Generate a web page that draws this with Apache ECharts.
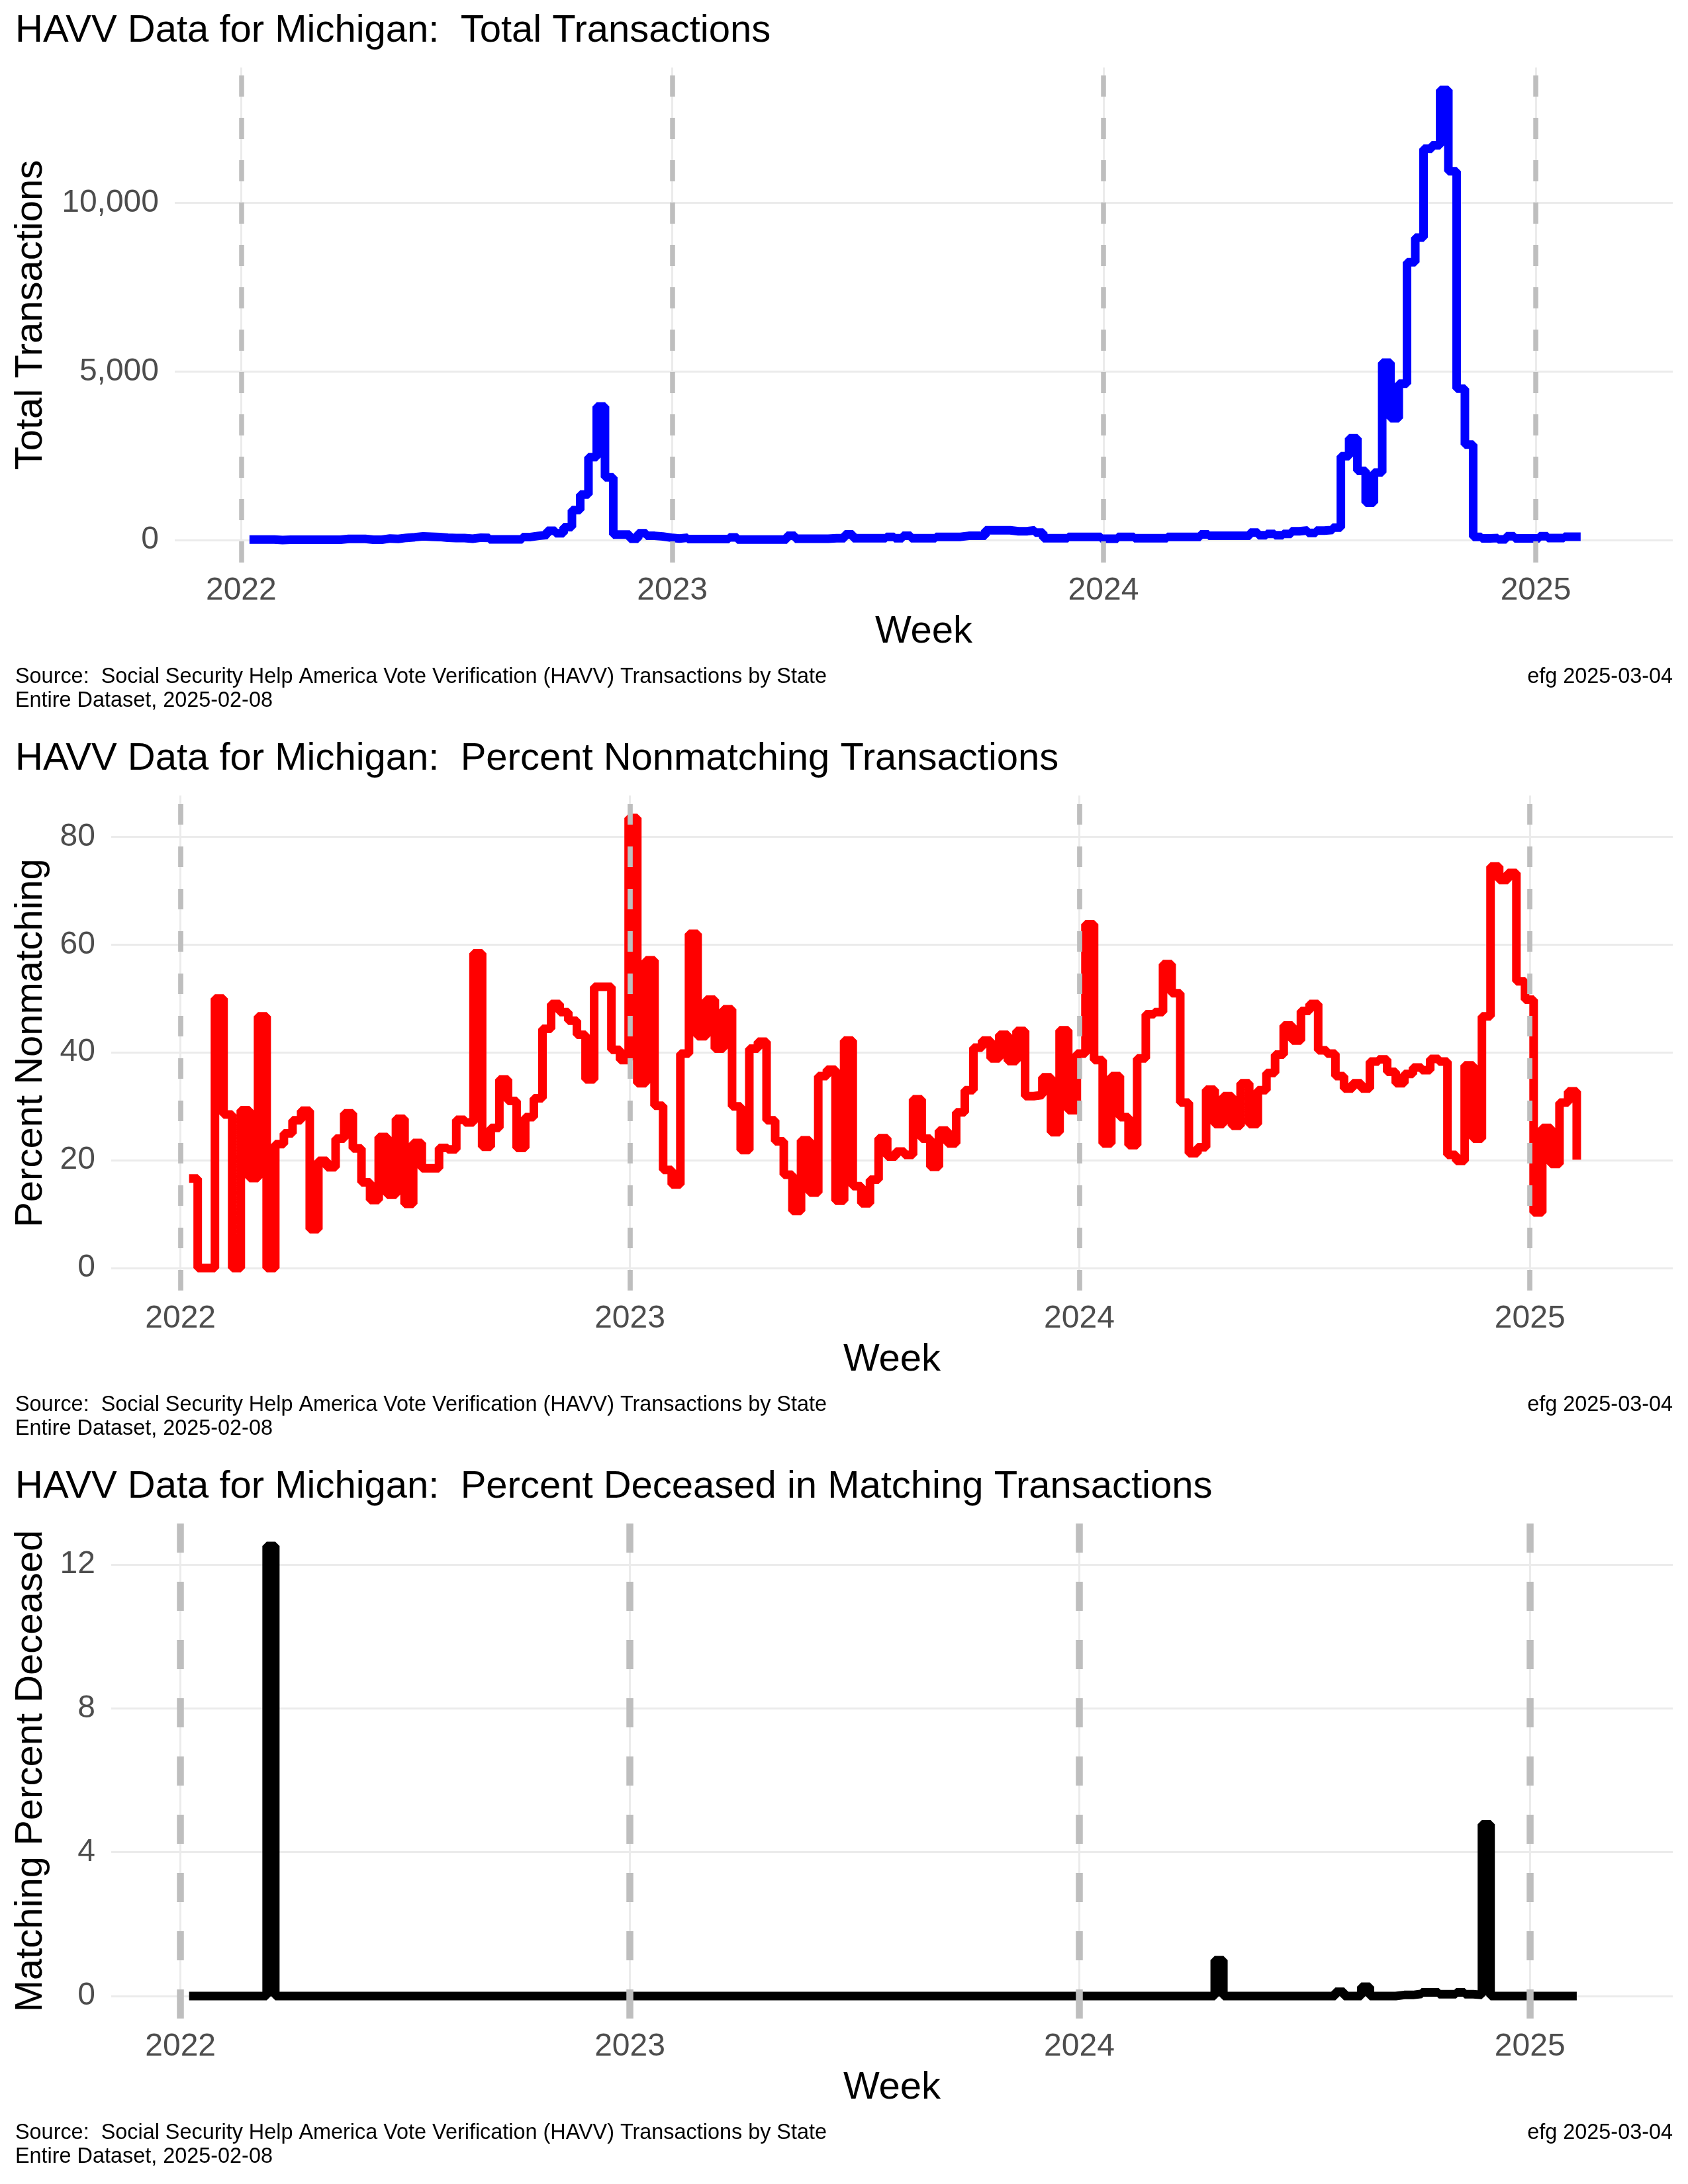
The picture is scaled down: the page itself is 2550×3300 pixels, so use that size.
<!DOCTYPE html>
<html lang="en">
<head>
<meta charset="UTF-8">
<title>HAVV Data for Michigan</title>
<script src="https://cdn.jsdelivr.net/npm/echarts@6/dist/echarts.min.js"></script>
<style>
  * { margin: 0; padding: 0; }
  body { background: #fff; width: 2550px; }
  .panel { width: 2550px; height: 1100px; }
</style>
</head>
<body>
<div id="chart1" class="panel"></div>
<div id="chart2" class="panel"></div>
<div id="chart3" class="panel"></div>
<script>
// weekly HAVV figures for Michigan, first week ending 2022-01-08, one value per week
var firstWeek = '2022-01-08';
var yearTicks = ['2022-01-01', '2023-01-01', '2024-01-01', '2025-01-01'];

var totalTransactions = [
  15, 15, 15, 0, 10, 10, 10, 10, 10, 10,
  10, 35, 35, 35, 10, 10, 45, 35, 65, 85,
  110, 100, 90, 70, 60, 60, 40, 70, 65, 20,
  20, 20, 20, 90, 125, 150, 275, 200, 380, 890,
  1350, 2460, 3960, 1860, 160, 160, 40, 200, 125, 105,
  70, 45, 70, 30, 30, 30, 30, 30, 80, 15,
  15, 15, 15, 15, 15, 125, 40, 40, 40, 40,
  55, 55, 165, 55, 55, 55, 55, 95, 55, 125,
  55, 55, 55, 95, 95, 95, 125, 125, 125, 290,
  290, 290, 260, 260, 290, 220, 55, 55, 55, 95,
  95, 95, 95, 40, 40, 95, 95, 55, 55, 55,
  55, 95, 95, 95, 95, 165, 125, 125, 125, 125,
  125, 220, 140, 180, 140, 180, 260, 285, 210, 280,
  300, 370, 2490, 3020, 2050, 1110, 2000, 5260, 3610, 4640,
  8240, 8970, 11610, 11710, 13350, 10940, 4490, 2830, 95, 50,
  60, 20, 110, 50, 50, 50, 110, 60, 60, 100,
  100, 100
];

var pctNonmatching = [
  16.6, 0, 0, 50, 28.5, 0, 29.3, 16.7, 46.7, 0,
  23, 25, 27.4, 29.2, 7.2, 19.9, 18.7, 24, 28.7, 22.2,
  15.9, 12.6, 24.3, 13.6, 27.7, 11.9, 23.2, 18.5, 18.5, 22.3,
  22, 27.5, 27, 58.4, 22.5, 26, 35, 31, 22.3, 28,
  31.5, 44.4, 49, 47.5, 45.9, 43.3, 35, 52.2, 52.2, 40.5,
  38.6, 83.5, 34.3, 57.1, 30.1, 18.2, 15.5, 39.8, 62, 43,
  49.8, 40.7, 48, 30, 21.9, 40.7, 42, 27.4, 23.5, 17.3,
  10.6, 23.7, 14, 35.6, 36.8, 12.5, 42.2, 15.2, 12, 16.4,
  24.1, 20.7, 21.6, 21, 31.3, 24, 18.8, 25.5, 23.1, 28.9,
  33, 40.9, 42.2, 38.9, 43.3, 38.4, 44, 31.9, 32.1, 35.4,
  25.2, 44.1, 29.3, 39.8, 63.8, 38.6, 23.1, 35.6, 28, 22.8,
  38.9, 47.1, 47.5, 56.4, 51, 30.7, 21.3, 22.4, 33.1, 26.7,
  31.9, 26.4, 34.3, 26.7, 33, 36.2, 39.6, 45, 42.2, 47.7,
  49, 40.4, 39.8, 35.6, 33.3, 34.3, 33.3, 38.3, 38.7, 36.4,
  34.3, 36, 37.2, 36.7, 38.8, 38.3, 21, 19.9, 37.6, 24,
  46.7, 74.5, 72, 73.3, 53.2, 49.8, 10.3, 26, 19.3, 30.7,
  32.8, 20.1
];

var pctDeceased = [
  0, 0, 0, 0, 0, 0, 0, 0, 0, 12.52,
  0, 0, 0, 0, 0, 0, 0, 0, 0, 0,
  0, 0, 0, 0, 0, 0, 0, 0, 0, 0,
  0, 0, 0, 0, 0, 0, 0, 0, 0, 0,
  0, 0, 0, 0, 0, 0, 0, 0, 0, 0,
  0, 0, 0, 0, 0, 0, 0, 0, 0, 0,
  0, 0, 0, 0, 0, 0, 0, 0, 0, 0,
  0, 0, 0, 0, 0, 0, 0, 0, 0, 0,
  0, 0, 0, 0, 0, 0, 0, 0, 0, 0,
  0, 0, 0, 0, 0, 0, 0, 0, 0, 0,
  0, 0, 0, 0, 0, 0, 0, 0, 0, 0,
  0, 0, 0, 0, 0, 0, 0, 0, 0, 1.0,
  0, 0, 0, 0, 0, 0, 0, 0, 0, 0,
  0, 0, 0, 0.12, 0, 0, 0.26, 0, 0, 0,
  0.03, 0.03, 0.06, 0.1, 0.1, 0.05, 0.05, 0.1, 0.05, 0.03,
  4.78, 0, 0, 0, 0, 0, 0, 0, 0, 0,
  0, 0
];

var totalTicks = [0, 5000, 10000];
var nonmatchTicks = [0, 20, 40, 60, 80];
var deceasedTicks = [0, 4, 8, 12];

var sourceLine = 'Source:  Social Security Help America Vote Verification (HAVV) Transactions by State';
var datasetLine = 'Entire Dataset, 2025-02-08';
var stamp = 'efg 2025-03-04';

var FONT = 'Liberation Sans, Arial, sans-serif';
var DAY = 864e5;
var xMin = Date.parse('2021-11-05T18:00:00Z');
var xMax = Date.parse('2025-04-27T00:00:00Z');
var yearValues = yearTicks.map(function (d) { return Date.parse(d); });

var weeks = [];
for (var i = 0; i < totalTransactions.length; i++) {
    weeks.push(Date.parse(firstWeek) + i * 7 * DAY);
}

function drawPanel(id, cfg) {
    var gridTop = 102, gridBottom = 850, gridRight = 2527;
    var data = weeks.map(function (t, i) { return [t, cfg.values[i]]; });
    var midX = (cfg.left + gridRight) / 2;
    var midY = (gridTop + gridBottom) / 2;

    var option = {
        animation: false,
        backgroundColor: '#ffffff',
        textStyle: { fontFamily: FONT },
        grid: { left: cfg.left, right: 2550 - gridRight, top: gridTop, height: gridBottom - gridTop },
        xAxis: {
            type: 'value',
            min: xMin,
            max: xMax,
            axisLine: { show: false },
            axisTick: { show: false, customValues: yearValues },
            axisLabel: {
                customValues: yearValues,
                formatter: function (v) { return String(new Date(v).getUTCFullYear()); },
                fontSize: 48, color: '#4d4d4d', margin: 19, fontFamily: FONT
            },
            splitLine: { show: true, lineStyle: { color: '#ebebeb', width: 3 } }
        },
        yAxis: {
            type: 'value',
            min: cfg.yMin,
            max: cfg.yMax,
            axisLine: { show: false },
            axisTick: { show: false, customValues: cfg.ticks },
            axisLabel: {
                customValues: cfg.ticks,
                formatter: function (v) { return v.toLocaleString('en-US'); },
                fontSize: 48, color: '#4d4d4d', margin: 24, fontFamily: FONT
            },
            splitLine: { show: true, lineStyle: { color: '#ebebeb', width: 3 } }
        },
        series: [{
            type: 'line',
            data: data,
            step: 'end',
            showSymbol: false,
            silent: true,
            lineStyle: { color: cfg.color, width: 13, cap: 'butt', join: 'bevel' },
            markLine: {
                silent: true,
                symbol: ['none', 'none'],
                label: { show: false },
                emphasis: { disabled: true },
                lineStyle: { color: '#bebebe', width: cfg.vWidth, type: cfg.dash, opacity: 1 },
                data: yearValues.map(function (v) { return { xAxis: v }; })
            }
        }],
        graphic: [
            { type: 'text', x: 23, y: 47,
              style: { text: cfg.title, fontSize: 58, fontFamily: FONT, fill: '#000',
                       align: 'left', verticalAlign: 'middle', textAlign: 'left', textVerticalAlign: 'middle' } },
            { type: 'text', x: 47, y: midY, rotation: Math.PI / 2,
              style: { text: cfg.yName, fontSize: 58, fontFamily: FONT, fill: '#000',
                       align: 'center', verticalAlign: 'middle', textAlign: 'center', textVerticalAlign: 'middle' } },
            { type: 'text', x: midX, y: 955,
              style: { text: 'Week', fontSize: 58, fontFamily: FONT, fill: '#000',
                       align: 'center', verticalAlign: 'middle', textAlign: 'center', textVerticalAlign: 'middle' } },
            { type: 'text', x: 23, y: 1023,
              style: { text: sourceLine, fontSize: 32.4, fontFamily: FONT, fill: '#000',
                       align: 'left', verticalAlign: 'middle', textAlign: 'left', textVerticalAlign: 'middle' } },
            { type: 'text', x: 23, y: 1059,
              style: { text: datasetLine, fontSize: 32.4, fontFamily: FONT, fill: '#000',
                       align: 'left', verticalAlign: 'middle', textAlign: 'left', textVerticalAlign: 'middle' } },
            { type: 'text', x: gridRight, y: 1023,
              style: { text: stamp, fontSize: 32.4, fontFamily: FONT, fill: '#000',
                       align: 'right', verticalAlign: 'middle', textAlign: 'right', textVerticalAlign: 'middle' } }
        ]
    };
    echarts.init(document.getElementById(id)).setOption(option);
}

drawPanel('chart1', {
    title: 'HAVV Data for Michigan:  Total Transactions',
    yName: 'Total Transactions',
    values: totalTransactions, color: '#0000ff',
    left: 264, yMin: -668, yMax: 14018, ticks: totalTicks,
    vWidth: 7.5, dash: [32, 32]
});
drawPanel('chart2', {
    title: 'HAVV Data for Michigan:  Percent Nonmatching Transactions',
    yName: 'Percent Nonmatching',
    values: pctNonmatching, color: '#ff0000',
    left: 168, yMin: -4.18, yMax: 87.68, ticks: nonmatchTicks,
    vWidth: 7.7, dash: [31, 33]
});
drawPanel('chart3', {
    title: 'HAVV Data for Michigan:  Percent Deceased in Matching Transactions',
    yName: 'Matching Percent Deceased',
    values: pctDeceased, color: '#000000',
    left: 168, yMin: -0.626, yMax: 13.146, ticks: deceasedTicks,
    vWidth: 10.5, dash: [44, 44]
});
</script>
</body>
</html>
